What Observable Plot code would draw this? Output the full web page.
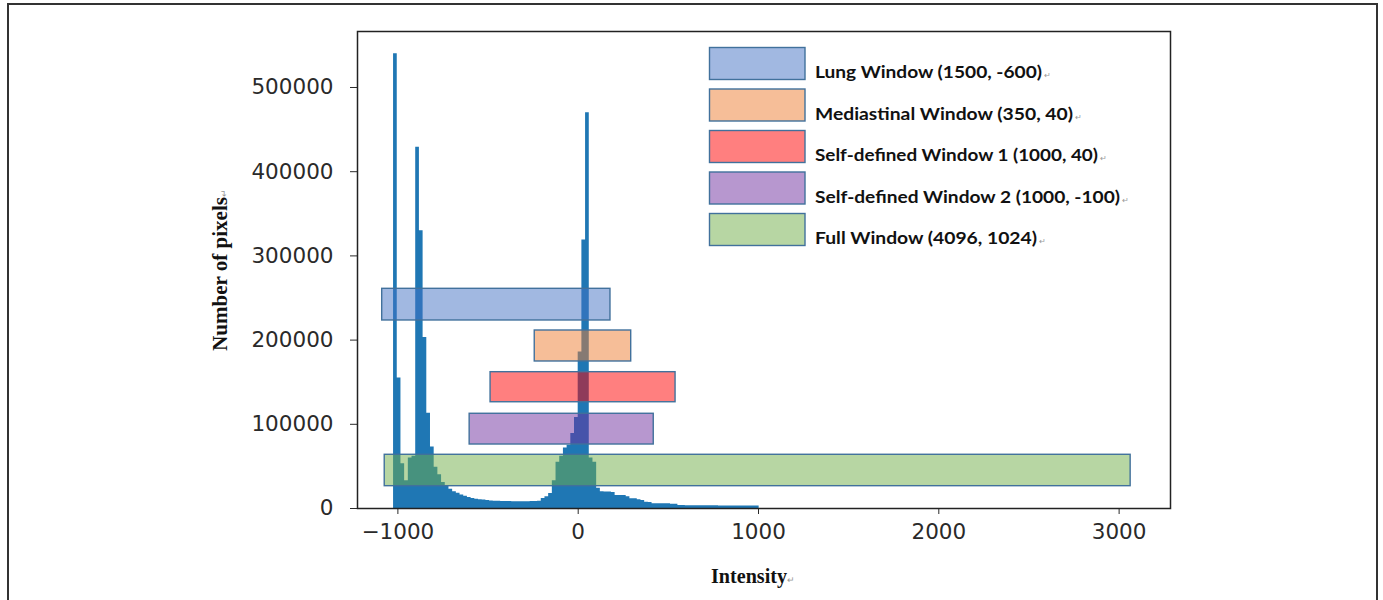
<!DOCTYPE html>
<html><head><meta charset="utf-8">
<script src="https://cdn.jsdelivr.net/npm/d3@7"></script>
<script src="https://cdn.jsdelivr.net/npm/@observablehq/plot@0.6"></script>
<style>
body{margin:0;background:#fff;}
#wrap{position:relative;width:1383px;height:600px;overflow:hidden;background:#fff;}
#border{position:absolute;left:7px;top:3px;width:1371px;height:660px;border:2px solid #333;box-sizing:border-box;}
#wrap svg{position:absolute;left:0;top:0;}
</style></head><body><div id="wrap"><div id="border"></div></div>
<script>
// Histogram of CT intensities (bin start, bin width, pixel counts per bin)
const binStart = -1024;
const binWidth = 20.48;
const counts = [
  540000, 155000, 53000, 33000, 60000, 62000, 429000, 330000, 203000, 113000,
  73000, 49000, 40000, 31000, 26000, 23000, 20000, 18000, 16000, 14500,
  13000, 12000, 11000, 10500, 10000, 9500, 9000, 8700, 8500, 8300,
  8200, 8200, 8100, 8100, 8100, 8100, 8100, 8200, 8300, 8600,
  11900, 14000, 17800, 33000, 55000, 62000, 72000, 75000, 89000, 108000,
  186000, 319000, 470000, 60000, 55000, 24000, 20000, 19500, 19500, 19000,
  15500, 15500, 15500, 14000, 11500, 11500, 10500, 9500, 7500, 7000,
  5500, 5500, 5500, 5500, 5500, 5000, 5000, 3500, 3500, 3400,
  3400, 3400, 3300, 3300, 3300, 3200, 3200, 3200, 3100, 3100,
  3100, 3000, 3000, 3000, 3000, 3000, 3000, 3000, 3000
];

// Window bars (intensity span and count span)
const windowNames = [
  "Lung Window (1500, -600)",
  "Mediastinal Window (350, 40)",
  "Self-defined Window 1 (1000, 40)",
  "Self-defined Window 2 (1000, -100)",
  "Full Window (4096, 1024)"
];
const windowX1 = [-1087, -241, -486, -602, -1073];
const windowX2 = [179, 294, 540, 419, 3064];
const windowY1 = [223300, 174600, 126200, 76000, 26500];
const windowY2 = [260900, 211400, 161900, 112500, 63800];
const windowColors = ["#4472C4", "#ED7D31", "#FF0000", "#7030A0", "#70AD47"];

const xTicks = [-1000, 0, 1000, 2000, 3000];
const yTicks = [0, 100000, 200000, 300000, 400000, 500000];

const histPts = counts.map((c, i) => ({x: binStart + i * binWidth, y: c}));
histPts.push({x: binStart + counts.length * binWidth, y: counts[counts.length - 1]});

const wins = windowNames.map((n, i) => ({
  name: n, x1: windowX1[i], x2: windowX2[i], y1: windowY1[i], y2: windowY2[i], color: windowColors[i]
}));

const chart = Plot.plot({
  width: 1383, height: 600,
  marginLeft: 357, marginRight: 213, marginTop: 31, marginBottom: 92,
  style: {background: "transparent", fontFamily: "'DejaVu Sans'", fontSize: "21.5px", color: "#2a2a2a", overflow: "visible"},
  x: {domain: [-1224, 3285], ticks: xTicks, tickFormat: d => d < 0 ? "\u2212" + Math.abs(d) : String(d), label: null, tickSize: 6, tickPadding: 9},
  y: {domain: [0, 566500], ticks: yTicks, tickFormat: d => String(d), label: null, tickSize: 7, tickPadding: 17},
  color: {type: "identity"},
  marks: [
    Plot.areaY(histPts, {x: "x", y: "y", curve: "step-after", fill: "#1f77b4"}),
    Plot.rect(wins, {x1: "x1", x2: "x2", y1: "y1", y2: "y2", fill: "color", fillOpacity: 0.5, stroke: "#41719C", strokeWidth: 1.4}),
    Plot.frame({stroke: "#222", strokeWidth: 1.5})
  ]
});
document.getElementById("wrap").appendChild(chart);

// Overlay: axis titles and legend
const ov = d3.create("svg").attr("width", 1383).attr("height", 600);
const mark = "\u21b5";

const yl = ov.append("text")
  .attr("transform", "translate(227,270) rotate(-90)")
  .attr("text-anchor", "middle")
  .style("font-family", "'Liberation Serif'").style("font-weight", "bold").style("font-size", "20px").attr("fill", "#111");
yl.append("tspan").text("Number of pixels").attr("textLength", 154).attr("lengthAdjust", "spacingAndGlyphs");
yl.append("tspan").text(mark).style("font-size", "9px").attr("fill", "#999").style("font-weight", "normal");

const xl = ov.append("text")
  .attr("x", 711).attr("y", 583)
  .style("font-family", "'Liberation Serif'").style("font-weight", "bold").style("font-size", "20px").attr("fill", "#111");
xl.append("tspan").text("Intensity").attr("textLength", 76).attr("lengthAdjust", "spacingAndGlyphs");
xl.append("tspan").text(mark).style("font-size", "9px").attr("fill", "#999").style("font-weight", "normal");

const legendTextWidths = [227, 258, 283, 305, 222];
windowNames.forEach((n, i) => {
  const top = 47.5 + i * 41.5;
  ov.append("rect").attr("x", 709.5).attr("y", top).attr("width", 95.5).attr("height", 32)
    .attr("fill", windowColors[i]).attr("fill-opacity", 0.5).attr("stroke", "#41719C").attr("stroke-width", 1.4);
  const t = ov.append("text").attr("x", 815).attr("y", top + 30.5)
    .style("font-family", "Lato").style("font-weight", "bold").style("font-size", "17.5px").attr("fill", "#111");
  t.append("tspan").text(n).attr("textLength", legendTextWidths[i]).attr("lengthAdjust", "spacingAndGlyphs");
  t.append("tspan").attr("dx", 2).text(mark).style("font-size", "8px").attr("fill", "#999").style("font-weight", "normal");
});
document.getElementById("wrap").appendChild(ov.node());
</script>
</body></html>
